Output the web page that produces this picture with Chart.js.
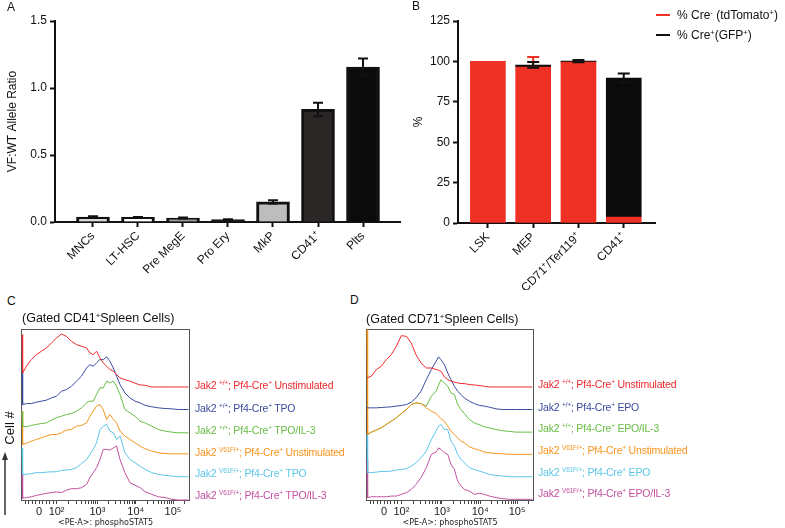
<!DOCTYPE html>
<html>
<head>
<meta charset="utf-8">
<script src="https://cdn.jsdelivr.net/npm/chart.js@4.4.1/dist/chart.umd.min.js"></script>
<style>
  html, body { margin: 0; padding: 0; background: #fff; }
  body { width: 785px; height: 528px; position: relative; overflow: hidden;
         font-family: "Liberation Sans", Arial, sans-serif; color: #111; }
  .box { position: absolute; }
  .txt { position: absolute; white-space: nowrap; line-height: 1; }
  .txt sup { font-size: 62%; vertical-align: 0; position: relative; top: -0.55em; }
  .letter { font-size: 12px; }
  .title { font-size: 12.5px; }
  .lab { font-size: 10.5px; letter-spacing: -0.2px; }
  .leg { font-size: 12px; }
  .leg i { display: inline-block; width: 14px; height: 2px; vertical-align: middle; margin-right: 7px; position: relative; top: -1px; }
</style>
</head>
<body>
<div class="box" style="left:0;top:0;width:405px;height:290px"><canvas id="chartA"></canvas></div>
<div class="box" style="left:400px;top:0;width:260px;height:290px"><canvas id="chartB"></canvas></div>
<div class="box" style="left:0;top:320px;width:200px;height:208px"><canvas id="chartC"></canvas></div>
<div class="box" style="left:355px;top:320px;width:190px;height:208px"><canvas id="chartD"></canvas></div>

<div class="txt letter" style="left:7px;top:1px">A</div>
<div class="txt letter" style="left:412px;top:0px">B</div>
<div class="txt letter" style="left:7px;top:295px">C</div>
<div class="txt letter" style="left:350px;top:294px">D</div>

<div class="txt leg" style="left:656px;top:9px"><i style="background:#ee3124"></i>% Cre<sup>-</sup> (tdTomato<sup>+</sup>)</div>
<div class="txt leg" style="left:656px;top:29px"><i style="background:#111"></i>% Cre<sup>+</sup>(GFP<sup>+</sup>)</div>

<div class="txt title" style="left:22px;top:312px">(Gated CD41<sup>+</sup>Spleen Cells)</div>
<div class="txt title" style="left:366px;top:313px">(Gated CD71<sup>+</sup>Spleen Cells)</div>

<div class="txt" style="left:9px;top:428px;font-size:13px;transform:translate(-50%,-50%) rotate(-90deg)">Cell #</div>
<svg class="box" style="left:0;top:452px" width="12" height="64">
  <line x1="5" y1="63" x2="5" y2="6" stroke="#333" stroke-width="1.5"/>
  <polygon points="5,0 2,8 8,8" fill="#333"/>
</svg>

<div id="labelsC"></div>
<div id="labelsD"></div>

<script>
// ---------- Panel A: allele ratio ----------
const catsA = ['MNCs', 'LT-HSC', 'Pre MegE', 'Pro Ery', 'MkP', 'CD41⁺', 'Plts'];
const ratioA = [0.037, 0.035, 0.03, 0.018, 0.15, 0.84, 1.157];
const errA = [0.005, 0.003, 0.003, 0.002, 0.012, 0.05, 0.063];
const fillA = ['#d9d9d9', '#ffffff', '#9a9a9a', '#111111', '#bdbdbd', '#2b2626', '#0b0b0b'];

// ---------- Panel B: % Cre- / Cre+ ----------
const catsB = ['LSK', 'MEP', 'CD71⁺/Ter119⁺', 'CD41⁺'];
const creNeg = [100, 96.5, 99.6, 3.7];
const creNegErr = [0, 6.2, 0, 0];
const crePos = [0, 1.3, 0.6, 86];
const crePosErr = [0, 1.8, 0.7, 2.8];

// ---------- Panels C, D: phosphoSTAT5 histograms (offset overlays) ----------
const axisTicks = [105, 212, 462, 698, 926];
const axisLabels = ['0', '10²', '10³', '10⁴', '10⁵'];

const xC = [0, 4, 27, 57, 88, 119, 150, 180, 211, 242, 273, 303, 334, 365, 396, 416, 437, 457, 478, 498,
            519, 539, 560, 580, 601, 631, 662, 693, 724, 754, 795, 836, 877, 918, 959, 1021];
const redC = [96.7, 74.3, 78.2, 82.1, 85.0, 87.0, 88.9, 91.8, 94.7, 97.1, 95.7, 92.8, 90.9, 89.9, 88.9, 86.0, 85.0, 87.0,
              83.1, 80.2, 78.2, 76.3, 75.3, 73.3, 71.4, 70.4, 69.5, 68.3, 67.3, 67.1, 66.1, 66.1, 66.1, 66.1, 66.1, 66.1];
const blueC = [74.3, 55.8, 56.4, 56.4, 57.2, 57.8, 58.4, 59.7, 60.7, 63.6, 64.6, 66.5, 69.5, 72.4, 77.2, 79.2, 78.2, 80.2,
               82.1, 82.1, 83.7, 81.1, 77.2, 72.4, 67.5, 62.6, 59.7, 57.8, 56.8, 55.4, 54.5, 53.9, 53.5, 53.3, 52.9, 52.9];
const greenC = [51.9, 43.2, 42.8, 43.6, 44.2, 44.7, 45.1, 46.7, 48.1, 49.0, 50.0, 50.6, 51.9, 53.9, 56.8, 57.8, 57.8, 61.7,
                65.6, 65.6, 69.5, 68.5, 69.5, 66.5, 61.7, 52.9, 51.0, 49.0, 46.1, 45.1, 43.2, 41.2, 40.3, 39.7, 39.3, 39.3];
const orangeC = [51.9, 32.5, 33.1, 34.4, 35.4, 36.4, 37.4, 38.3, 38.3, 39.3, 40.9, 41.2, 43.2, 43.6, 45.1, 49.0, 51.9, 54.9,
                 55.8, 52.9, 47.1, 50.0, 47.1, 45.1, 40.3, 37.4, 35.4, 33.5, 31.5, 30.0, 28.6, 27.6, 27.2, 27.0, 27.0, 27.0];
const cyanC = [30.5, 15.0, 15.0, 15.4, 16.0, 16.0, 16.3, 16.5, 16.5, 17.3, 17.5, 17.9, 18.9, 21.4, 23.7, 26.7, 29.6, 33.5,
               41.2, 43.2, 44.2, 40.3, 39.3, 35.4, 37.4, 27.6, 23.7, 21.8, 19.8, 17.9, 16.0, 15.0, 14.4, 14.0, 13.6, 13.6];
const magentaC = [15.0, 1.0, 1.4, 1.9, 2.7, 3.3, 3.9, 4.3, 4.7, 4.3, 5.8, 6.6, 6.6, 7.2, 9.1, 13.0, 16.0, 18.9,
                  23.7, 29.6, 29.6, 29.2, 30.5, 31.5, 23.7, 16.0, 10.1, 8.6, 7.2, 4.9, 3.3, 1.9, 1.4, 0.4, 0, 0];

const xD = [0, 4, 27, 58, 88, 119, 150, 181, 212, 243, 273, 302, 333, 366, 397, 426, 441, 456, 477, 498,
            518, 539, 559, 580, 600, 631, 662, 693, 724, 755, 796, 837, 878, 917, 958, 1020];
const redD = [71.4, 71.4, 72.4, 76.3, 78.2, 82.1, 85.0, 89.9, 96.1, 95.7, 91.8, 85.0, 80.2, 77.2, 77.2, 76.3, 75.9, 75.3,
              72.0, 70.4, 69.5, 68.9, 68.5, 68.1, 68.1, 67.5, 67.3, 66.9, 66.5, 66.1, 66.1, 66.1, 66.1, 66.1, 66.1, 66.1];
const blueD = [53.9, 53.9, 53.9, 53.9, 54.1, 54.3, 54.5, 54.9, 55.3, 55.8, 57.2, 59.7, 63.6, 70.4, 76.3, 81.1, 83.7, 82.1,
               79.2, 74.3, 70.4, 66.5, 63.6, 61.7, 59.7, 57.8, 56.4, 55.3, 54.9, 54.3, 53.3, 52.9, 52.9, 52.9, 52.9, 52.9];
const greenD = [38.3, 38.3, 39.7, 40.9, 42.2, 44.2, 46.1, 48.1, 50.6, 52.9, 55.8, 56.8, 56.4, 54.9, 60.7, 63.6, 66.9, 70.4,
                68.5, 66.5, 62.6, 61.7, 55.8, 52.9, 50.6, 47.1, 45.1, 44.0, 42.8, 42.2, 41.2, 40.5, 40.1, 39.7, 39.7, 39.7];
const orangeD = [99.6, 38.3, 39.7, 40.9, 42.2, 44.2, 46.1, 48.1, 50.6, 52.9, 55.8, 56.8, 56.4, 53.9, 51.9, 50.6, 49.0, 47.5,
                 46.1, 43.2, 40.3, 38.3, 36.4, 34.4, 33.5, 31.1, 30.0, 29.2, 28.0, 27.6, 27.2, 27.0, 26.7, 26.7, 26.7, 26.7];
const cyanD = [38.3, 16.0, 16.0, 16.3, 16.7, 16.7, 16.9, 17.5, 17.9, 18.3, 19.8, 21.8, 24.7, 28.6, 35.4, 40.3, 43.2, 44.2,
               41.2, 41.2, 34.4, 31.5, 26.7, 23.7, 21.8, 18.9, 17.9, 16.9, 16.0, 15.0, 14.4, 14.0, 13.6, 13.6, 13.6, 13.6];
const magentaD = [23.7, 1.4, 1.9, 1.9, 1.9, 1.9, 2.3, 2.3, 3.3, 4.3, 6.2, 9.1, 13.0, 18.9, 26.7, 28.0, 30.5, 29.6,
                  27.6, 26.7, 20.8, 17.9, 11.1, 8.2, 6.2, 5.3, 3.3, 3.9, 3.3, 2.3, 1.4, 0.8, 0.4, 0.4, 0.4, 0.4];

const genotypes = ['+/+', '+/+', '+/+', 'V61F/+', 'V61F/+', 'V61F/+'];
const stimC = ['Unstimulated', 'TPO', 'TPO/IL-3', 'Unstimulated', 'TPO', 'TPO/IL-3'];
const stimD = ['Unstimulated', 'EPO', 'EPO/IL-3', 'Unstimulated', 'EPO', 'EPO/IL-3'];
const curveColors = ['#ee2a2e', '#3a4c9f', '#68bd45', '#f7941d', '#5cc6e8', '#c2519f'];

Chart.defaults.font.family = '"Liberation Sans", Arial, sans-serif';
Chart.defaults.color = '#111';

// error bars drawn on top of each bar (or stack segment)
const errorBars = {
  id: 'errorBars',
  afterDatasetsDraw(chart) {
    const { ctx } = chart;
    const y = chart.scales.y;
    chart.data.datasets.forEach((ds, di) => {
      if (!ds.errors) return;
      const meta = chart.getDatasetMeta(di);
      meta.data.forEach((bar, i) => {
        const e = ds.errors[i];
        if (!e) return;
        const d = y.getPixelForValue(0) - y.getPixelForValue(e);
        const top = bar.y;
        const cap = ds.capHalf;
        ctx.save();
        ctx.strokeStyle = ds.errColor;
        ctx.lineWidth = 2;
        ctx.beginPath();
        ctx.moveTo(bar.x, top - d); ctx.lineTo(bar.x, top + d);
        ctx.moveTo(bar.x - cap, top - d); ctx.lineTo(bar.x + cap, top - d);
        ctx.moveTo(bar.x - cap, top + d); ctx.lineTo(bar.x + cap, top + d);
        ctx.stroke();
        ctx.restore();
      });
    });
  }
};

function barAxes(cats, xmin, xmax, ymax, step, fmt, yTitle, titlePad, xHeight, yWidth) {
  return {
    x: {
      type: 'linear', min: xmin, max: xmax, stacked: true, offset: false,
      afterBuildTicks: s => { s.ticks = cats.map((_, i) => ({ value: i })); },
      afterFit: s => { s.height = xHeight; },
      grid: { drawOnChartArea: false, offset: false, tickLength: 5, tickWidth: 2, tickColor: '#111' },
      border: { display: true, width: 2, color: '#111' },
      ticks: { autoSkip: false, minRotation: 45, maxRotation: 45, padding: 2,
               font: { size: 12 }, color: '#111', callback: v => cats[v] }
    },
    y: {
      min: 0, max: ymax, stacked: true,
      afterFit: s => { s.width = yWidth; },
      grid: { drawOnChartArea: false, tickLength: 5, tickWidth: 2, tickColor: '#111' },
      border: { display: true, width: 2, color: '#111' },
      ticks: { stepSize: step, padding: 3, font: { size: 12 }, color: '#111', callback: fmt },
      title: { display: true, text: yTitle, font: { size: 12 }, color: '#111', padding: { top: titlePad, bottom: 0 } }
    }
  };
}

new Chart(document.getElementById('chartA'), {
  type: 'bar',
  data: {
    datasets: [{
      data: ratioA.map((v, i) => ({ x: i, y: v })),
      backgroundColor: fillA, borderColor: '#111', borderWidth: 3,
      barThickness: 33, errors: errA, errColor: '#111', capHalf: 5
    }]
  },
  options: {
    animation: false, responsive: true, maintainAspectRatio: false,
    layout: { padding: { left: 0, top: 21, right: 5, bottom: 0 } },
    plugins: { legend: { display: false }, tooltip: { enabled: false } },
    scales: barAxes(catsA, -0.844, 6.822, 1.5, 0.5, v => v.toFixed(1), 'VF:WT Allele Ratio', 5, 68, 55)
  },
  plugins: [errorBars]
});

new Chart(document.getElementById('chartB'), {
  type: 'bar',
  data: {
    datasets: [
      { label: '% Cre- (tdTomato+)', data: creNeg.map((v, i) => ({ x: i, y: v })),
        backgroundColor: '#ee3124', barThickness: 35, errors: creNegErr, errColor: '#ee3124', capHalf: 6 },
      { label: '% Cre+ (GFP+)', data: crePos.map((v, i) => ({ x: i, y: v })),
        backgroundColor: '#0b0b0b', barThickness: 35, errors: crePosErr, errColor: '#111', capHalf: 6 }
    ]
  },
  options: {
    animation: false, responsive: true, maintainAspectRatio: false,
    layout: { padding: { left: 0, top: 21, right: 5, bottom: 0 } },
    plugins: { legend: { display: false }, tooltip: { enabled: false } },
    scales: barAxes(catsB, -0.66, 3.69, 125, 25, v => v, '%', 11, 67, 58)
  },
  plugins: [errorBars]
});

// histogram frame
const frame = {
  id: 'frame',
  beforeDatasetsDraw(chart) {
    const { ctx, chartArea: a } = chart;
    ctx.save();
    ctx.strokeStyle = '#555';
    ctx.lineWidth = 1;
    ctx.strokeRect(Math.round(a.left) - 0.5, Math.round(a.top) + 0.5,
                   Math.round(a.right - a.left) + 1, Math.round(a.bottom - a.top));
    ctx.restore();
  }
};

const minorTicks = [];
[0.2, 0.4, 0.6, 0.8].forEach(f => minorTicks.push(axisTicks[0] - 107 * f, axisTicks[0] + 107 * f));
for (let d = 1; d < 4; d++) {
  for (let k = 2; k < 10; k++) minorTicks.push(axisTicks[d] + (axisTicks[d + 1] - axisTicks[d]) * Math.log10(k));
}
minorTicks.push(axisTicks[4] + 228 * Math.log10(2));
const allTicks = axisTicks.concat(minorTicks).sort((a, b) => a - b);

function histChart(id, xs, curves, padL, padR, orders) {
  new Chart(document.getElementById(id), {
    type: 'line',
    data: {
      datasets: curves.map((c, k) => ({
        data: xs.map((x, i) => ({ x, y: c[i] })),
        borderColor: curveColors[k], borderWidth: 1, pointRadius: 0, tension: 0,
        clip: 3, order: orders[k]
      }))
    },
    options: {
      animation: false, responsive: true, maintainAspectRatio: false,
      layout: { padding: { left: padL, right: padR, top: 9, bottom: 0 } },
      plugins: { legend: { display: false }, tooltip: { enabled: false } },
      scales: {
        x: {
          type: 'linear', min: 0, max: 1024,
          afterBuildTicks: s => { s.ticks = allTicks.map(v => ({ value: v })); },
          afterFit: s => { s.height = 28; },
          grid: { drawOnChartArea: false, tickLength: 4, color: '#444' },
          border: { display: false },
          ticks: { autoSkip: false, maxRotation: 0, padding: 1, font: { size: 11 }, color: '#222',
                   callback: v => { const j = axisTicks.indexOf(v); return j >= 0 ? axisLabels[j] : ''; } },
          title: { display: true, text: '<PE-A>: phosphoSTAT5', color: '#222',
                   font: { family: '"DejaVu Sans", sans-serif', size: 8 }, padding: { top: 0, bottom: 0 } }
        },
        y: { display: false, min: 0, max: 100 }
      }
    },
    plugins: [frame]
  });
}

histChart('chartC', xC, [redC, blueC, greenC, orangeC, cyanC, magentaC], 22, 11, [0, 1, 2, 3, 4, 5]);
histChart('chartD', xD, [redD, blueD, greenD, orangeD, cyanD, magentaD], 12, 12, [0, 1, 3, 2, 4, 5]);

// curve labels
function curveLabels(boxId, left, rows, stim) {
  const box = document.getElementById(boxId);
  stim.forEach((s, k) => {
    const el = document.createElement('div');
    el.className = 'txt lab';
    el.style.left = left + 'px';
    el.style.top = (rows[k] - 5) + 'px';
    el.style.color = curveColors[k];
    el.innerHTML = `Jak2 <sup>${genotypes[k]}</sup>; Pf4-Cre<sup>+</sup> ${s}`;
    box.appendChild(el);
  });
}
curveLabels('labelsC', 195, [385, 408, 430, 452, 473, 495], stimC);
curveLabels('labelsD', 538, [384, 407, 428, 450, 472, 493], stimD);
</script>
</body>
</html>
